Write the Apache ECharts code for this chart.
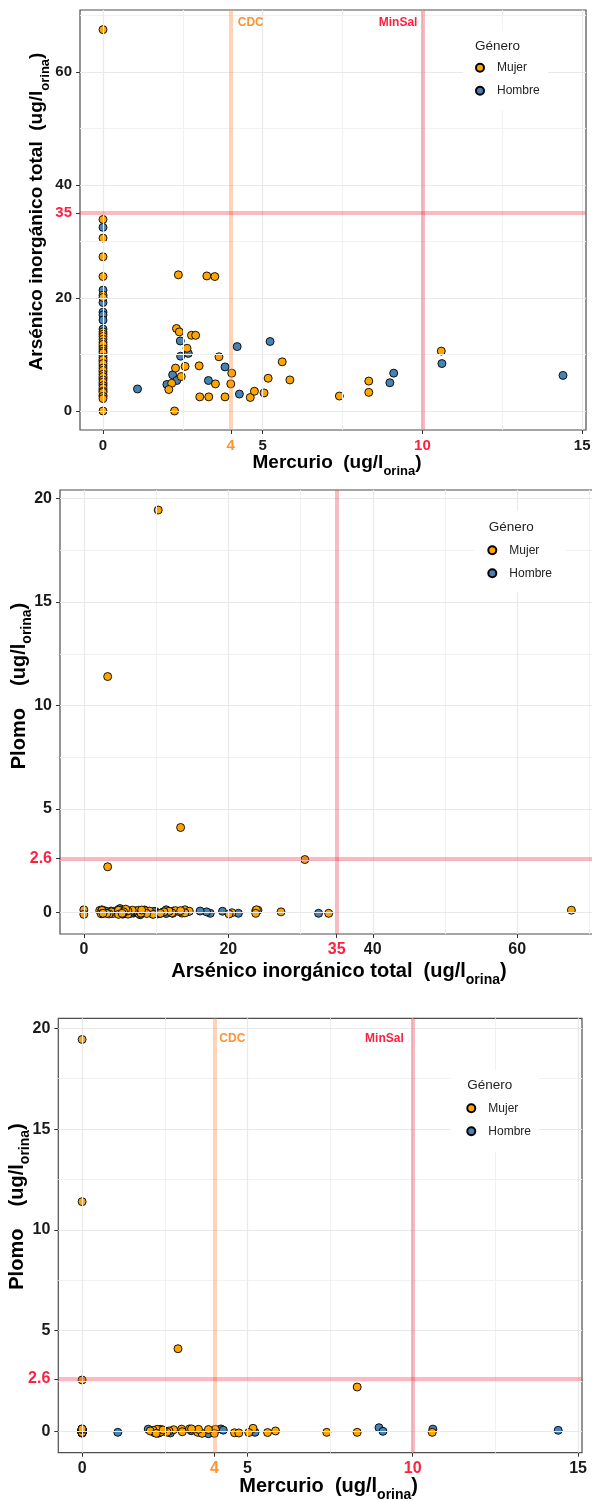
<!DOCTYPE html>
<html>
<head>
<meta charset="utf-8">
<script src="https://cdn.jsdelivr.net/npm/echarts@6/dist/echarts.min.js"></script>
<style>
  html, body { margin: 0; padding: 0; background: #fff; }
  #chart { width: 592px; height: 1501px; }
</style>
</head>
<body>
<div id="chart"></div>
<script>
// Urinary metal concentrations per participant (ug/l orina).
// genero: 'M' = Mujer, 'H' = Hombre
const genero = [
  'M','M','H','M','M','M','H','M','M','H','H','H','H','H','M','M','M','M','M','M','H','M','M','M',
  'H','M','M','H','M','H','M','M','H','M','M','H','M','M','H','M','M','H','M','M','H','M','M','M',
  'M','M','M','M','M','M','M','H','H','H','M','H','H','M','M','M','M','M','H','M','H','M','H','M',
  'H','M','H','M','M','M','M','H','M','M','M','H','M','M','M','M','M','M','M','H','H','M','H','H'
];
const mercurio = [
  0,0,0,0,0,0,0,0,0,0,0,0,0,0,0,0,0,0,0,0,0,0,0,0,
  0,0,0,0,0,0,0,0,0,0,0,0,0,0,0,0,0,0,0,0,0,0,0,0,
  2.36,3.25,3.50,2.30,2.39,2.77,2.90,2.42,4.20,5.23,2.63,2.67,2.43,3.63,5.61,2.27,2.57,3.01,3.82,4.03,2.18,2.45,2.31,2.15,
  2.00,2.06,3.30,3.52,4.00,5.17,5.85,1.08,3.03,3.31,3.82,4.27,4.61,4.74,5.04,2.24,7.40,8.32,8.32,8.98,9.10,10.59,10.61,14.40
];
const arsenico = [
  67.5,33.9,32.5,30.6,27.3,23.8,21.4,20.5,20.1,19.2,17.5,17.0,16.1,14.5,14.0,13.6,13.2,12.7,12.2,11.8,11.4,11.0,10.6,10.3,
  9.9,9.5,9.1,8.8,8.4,8.0,7.6,7.2,6.9,6.5,6.1,5.8,5.5,5.1,4.8,4.5,4.1,3.8,3.5,3.3,2.8,2.6,2.2,0.0,
  24.1,23.9,23.8,14.6,14.0,13.4,13.4,12.4,11.4,12.3,11.1,10.2,9.7,9.6,8.7,7.6,7.9,8.0,7.8,6.7,6.4,6.1,5.4,4.9,
  4.7,3.8,5.4,4.8,4.8,5.8,5.5,3.9,2.5,2.5,2.5,3.0,2.4,3.5,3.2,0.0,2.65,5.3,3.3,5.0,6.7,10.6,8.4,6.3
];
const plomo = [
  0.10,-0.05,-0.05,2.55,0.02,0.08,-0.05,-0.02,-0.08,0.05,-0.05,0.02,0.06,0.04,0.12,-0.04,0.03,0.08,-0.03,0.05,-0.06,0.02,-0.05,19.45,
  0.04,-0.08,0.06,-0.02,0.09,0.01,-0.06,0.07,-0.04,0.03,-0.09,0.05,-0.03,0.08,-0.07,0.02,-0.05,0.06,-0.02,11.4,0.04,-0.06,0.09,0.12,
  0.10,0.12,-0.05,0.05,-0.03,0.08,4.1,0.06,0.12,-0.05,0.02,-0.08,0.04,-0.10,-0.06,0.10,-0.04,0.11,-0.12,0.10,-0.06,0.07,-0.09,0.05,
  0.11,0.02,0.03,0.10,-0.10,0.15,0.02,-0.05,-0.02,0.12,0.09,0.06,-0.07,-0.08,-0.06,-0.10,-0.05,-0.05,2.2,0.18,0.00,-0.05,0.11,0.05
];

// Reference limits
const limiteCDC = 4;        // mercurio, CDC
const limiteMinSal = 10;    // mercurio, MinSal
const limiteArsenico = 35;  // arsénico inorgánico
const limitePlomo = 2.6;    // plomo

// Axis breaks
const ticksMercurio = [0, 5, 10, 15];
const minorMercurio = [2.5, 7.5, 12.5];
const ticksArsenico = [0, 20, 40, 60];
const minorArsenico = [10, 30, 50, 70];
const ticksPlomo = [0, 5, 10, 15, 20];
const minorPlomo = [2.5, 7.5, 12.5, 17.5];

const FONT = "'Liberation Sans', Arial, Helvetica, sans-serif";
const NEGRO = '#1a1a1a';
const ROJO = '#FF1F3F';
const NARANJA = '#FF9233';
const COLOR = { M: '#FFA500', H: '#4682B4' };
const NOMBRE = { M: 'Mujer', H: 'Hombre' };
const LINEA_CDC = 'rgba(255,150,80,0.42)';
const LINEA_ROJA = 'rgba(235,40,65,0.32)';

function colorFor(specials) {
  return function (v) {
    const n = Number(v);
    for (const [val, c] of specials) if (Math.abs(n - val) < 1e-9) return c;
    return NEGRO;
  };
}

function titulo(main, spaces) {
  return '{m|' + main + ' '.repeat(spaces) + '(ug/l}{s|orina}{m|)}';
}

function nameStyle(size, sub, pad) {
  return {
    padding: pad,
    rich: {
      m: { fontFamily: FONT, fontWeight: 'bold', fontSize: size, lineHeight: size + 11, color: '#000' },
      s: { fontFamily: FONT, fontWeight: 'bold', fontSize: sub, lineHeight: sub + 1, verticalAlign: 'bottom', color: '#000' }
    }
  };
}

function axisCfg(gi, min, max, ticks, fontSize, specials, name, nameGap, nameSize, nameSub, pad) {
  return {
    gridIndex: gi, type: 'value', min: min, max: max,
    axisLine: { show: false, onZero: false },
    splitLine: { show: false },
    minorSplitLine: { show: false },
    axisTick: { show: true, customValues: ticks, length: 4, lineStyle: { color: '#333', width: 1 } },
    axisLabel: {
      customValues: ticks, fontFamily: FONT, fontWeight: 'bold', fontSize: fontSize,
      margin: 8, color: colorFor(specials)
    },
    name: name, nameLocation: 'middle', nameGap: nameGap, nameMoveOverlap: false,
    nameTextStyle: nameStyle(nameSize, nameSub, pad)
  };
}

function gridlines(gi, xMaj, xMin, yMaj, yMin) {
  const minor = { color: '#F1F1F1', width: 1, type: 'solid' };
  const major = { color: '#E9E9E9', width: 1.2, type: 'solid' };
  const data = []
    .concat(xMin.map(v => ({ xAxis: v, lineStyle: minor })))
    .concat(yMin.map(v => ({ yAxis: v, lineStyle: minor })))
    .concat(xMaj.map(v => ({ xAxis: v, lineStyle: major })))
    .concat(yMaj.map(v => ({ yAxis: v, lineStyle: major })));
  return {
    type: 'scatter', xAxisIndex: gi, yAxisIndex: gi, data: [], silent: true, z: 1,
    markLine: { silent: true, symbol: ['none', 'none'], label: { show: false }, animation: false, data: data }
  };
}

function limites(gi, lines, labels) {
  return {
    type: 'scatter', xAxisIndex: gi, yAxisIndex: gi, data: [], silent: true, z: 2,
    markLine: {
      silent: true, symbol: ['none', 'none'], label: { show: false }, animation: false,
      data: lines.map(l => Object.assign({}, l.at, { lineStyle: { color: l.color, width: 4, type: 'solid' } }))
    },
    markPoint: {
      silent: true, symbol: 'circle', symbolSize: 0, animation: false,
      data: labels.map(t => ({
        coord: t.coord,
        label: {
          show: true, formatter: t.text, position: t.position, distance: t.distance,
          color: t.color, fontFamily: FONT, fontWeight: 'bold', fontSize: 12
        }
      }))
    }
  };
}

function puntos(gi, xs, ys, g) {
  const data = [];
  for (let i = 0; i < genero.length; i++) if (genero[i] === g) data.push([xs[i], ys[i]]);
  return {
    name: NOMBRE[g], type: 'scatter', xAxisIndex: gi, yAxisIndex: gi, z: 3,
    symbol: 'circle', symbolSize: 8, data: data,
    itemStyle: { color: COLOR[g], borderColor: '#000', borderWidth: 0.9, opacity: 1 },
    emphasis: { disabled: true }
  };
}

// Legend placement per panel: marker centre x, first marker y, title position
const leyendas = [
  { cx: 479, y1: 67.7, tx: 475, ty: 47, box: [463, 30, 85, 80] },
  { cx: 491.3, y1: 550.3, tx: 488.7, ty: 528, box: [475, 511, 90, 81] },
  { cx: 470.3, y1: 1108.3, tx: 467.3, ty: 1086.7, box: [450, 1070, 89, 82] }
];

const panelGrid = { show: true, borderColor: '#4d4d4d', borderWidth: 1.2, backgroundColor: '#fff', outerBoundsMode: 'none', containLabel: false };

const option = {
  animation: false,
  backgroundColor: '#fff',
  grid: [
    Object.assign({ left: 80, top: 10, width: 506, height: 420 }, panelGrid),
    Object.assign({ left: 60, top: 490, width: 535, height: 444 }, panelGrid),
    Object.assign({ left: 58.3, top: 1018.3, width: 523.7, height: 434.4 }, panelGrid)
  ],
  xAxis: [
    axisCfg(0, -0.72, 15.12, ticksMercurio.concat([limiteCDC]), 15,
      [[limiteCDC, NARANJA], [limiteMinSal, ROJO]], titulo('Mercurio', 2), 18, 19, 13, [0, 0, 0, 8]),
    axisCfg(1, -3.3, 70.77, ticksArsenico.concat([limiteArsenico]), 16,
      [[limiteArsenico, ROJO]], titulo('Arsénico inorgánico total', 2), 22, 20, 14, [0, 0, 0, 23]),
    axisCfg(2, -0.72, 15.12, ticksMercurio.concat([limiteCDC]), 16,
      [[limiteCDC, NARANJA], [limiteMinSal, ROJO]], titulo('Mercurio', 2), 18, 20, 14, [0, 0, 0, 17])
  ],
  yAxis: [
    axisCfg(0, -3.36, 70.97, ticksArsenico.concat([limiteArsenico]), 15,
      [[limiteArsenico, ROJO]], titulo('Arsénico inorgánico total', 2), 28.5, 19, 13, [0, 0, 0, 17]),
    axisCfg(1, -1.05, 20.42, ticksPlomo.concat([limitePlomo]), 16,
      [[limitePlomo, ROJO]], titulo('Plomo', 4), 25.5, 20, 14, [0, 0, 0, 52]),
    axisCfg(2, -1.06, 20.5, ticksPlomo.concat([limitePlomo]), 16,
      [[limitePlomo, ROJO]], titulo('Plomo', 4), 25.8, 20, 14, [0, 0, 0, 58])
  ],
  legend: leyendas.map(p => ({
    data: ['Mujer', 'Hombre'], orient: 'vertical', left: p.cx - 4, top: p.y1 - 6,
    padding: 0, itemGap: 11, itemWidth: 8, itemHeight: 8, icon: 'circle',
    selectedMode: false, z: 20,
    textStyle: { fontFamily: FONT, fontSize: 12, color: '#222', lineHeight: 12, padding: [0, 0, 0, 8] }
  })),
  graphic: {
    elements: leyendas.map(p => ({
      type: 'rect', z: 10, silent: true,
      shape: { x: p.box[0], y: p.box[1], width: p.box[2], height: p.box[3] },
      style: { fill: '#fff' }
    })).concat(leyendas.map(p => ({
      type: 'text', z: 21, silent: true, left: p.tx, top: p.ty - 8,
      style: { text: 'Género', font: '13.5px ' + FONT, fill: '#222' }
    })))
  },
  series: [
    // Panel 1: Mercurio vs Arsénico
    gridlines(0, ticksMercurio, minorMercurio, ticksArsenico, minorArsenico),
    limites(0, [
      { at: { xAxis: limiteCDC }, color: LINEA_CDC },
      { at: { xAxis: limiteMinSal }, color: LINEA_ROJA },
      { at: { yAxis: limiteArsenico }, color: LINEA_ROJA }
    ], [
      { coord: [limiteCDC, 68.7], text: 'CDC', position: 'right', distance: 7, color: NARANJA },
      { coord: [limiteMinSal, 68.7], text: 'MinSal', position: 'left', distance: 5, color: ROJO }
    ]),
    puntos(0, mercurio, arsenico, 'H'),
    puntos(0, mercurio, arsenico, 'M'),

    // Panel 2: Arsénico vs Plomo
    gridlines(1, ticksArsenico, minorArsenico, ticksPlomo, minorPlomo),
    limites(1, [
      { at: { xAxis: limiteArsenico }, color: LINEA_ROJA },
      { at: { yAxis: limitePlomo }, color: LINEA_ROJA }
    ], []),
    puntos(1, arsenico, plomo, 'H'),
    puntos(1, arsenico, plomo, 'M'),

    // Panel 3: Mercurio vs Plomo
    gridlines(2, ticksMercurio, minorMercurio, ticksPlomo, minorPlomo),
    limites(2, [
      { at: { xAxis: limiteCDC }, color: LINEA_CDC },
      { at: { xAxis: limiteMinSal }, color: LINEA_ROJA },
      { at: { yAxis: limitePlomo }, color: LINEA_ROJA }
    ], [
      { coord: [limiteCDC, 19.5], text: 'CDC', position: 'right', distance: 5, color: NARANJA },
      { coord: [limiteMinSal, 19.5], text: 'MinSal', position: 'left', distance: 9, color: ROJO }
    ]),
    puntos(2, mercurio, plomo, 'H'),
    puntos(2, mercurio, plomo, 'M')
  ]
};

const chart = echarts.init(document.getElementById('chart'), null, { renderer: 'canvas' });
chart.setOption(option);
</script>
</body>
</html>
